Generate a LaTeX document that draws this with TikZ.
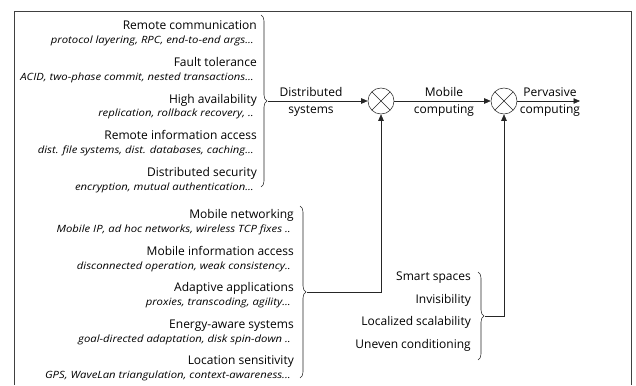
\documentclass[tikz,border=0pt]{standalone}
\usepackage{fontspec}
\setmainfont{Open Sans}
\newfontfamily\subfont[FakeStretch=1.13]{Open Sans}
\usetikzlibrary{decorations.pathreplacing,arrows.meta}
\begin{document}
\begin{tikzpicture}[x=1pt,y=-1pt,
 lbl/.style={anchor=base east, inner sep=0pt, font=\fontsize{12}{14}\selectfont},
 sub/.style={anchor=base east, inner sep=0pt, font=\subfont\itshape\fontsize{10}{12}\selectfont},
 flow/.style={anchor=base, inner sep=0pt, font=\fontsize{12}{14}\selectfont},
 bracestyle/.style={decorate, decoration={brace, amplitude=6pt}, line width=0.55pt, black!85},
 conn/.style={line width=0.55pt, black!85, -{Triangle[length=6.5pt,width=5.5pt]}},
 mult/.style={circle, draw=black!85, line width=0.55pt, minimum size=26pt, inner sep=0pt,
   path picture={\draw[line width=0.55pt, black!85] (path picture bounding box.north west)--(path picture bounding box.south east)
     (path picture bounding box.north east)--(path picture bounding box.south west);}}
]
\useasboundingbox (0,0) rectangle (636,385);
\draw[line width=0.8pt, black!75] (14,385) -- (14,11) -- (631,11) -- (631,385);

% top group
\node[lbl] (rc) at (257,30) {Remote communication};
\node[sub] (rcs) at (254,44) {protocol layering, RPC, end-to-end args...};
\node[lbl] (ft) at (257,66.5) {Fault tolerance};
\node[sub] (fts) at (254,80.5) {ACID, two-phase commit, nested transactions...};
\node[lbl] (ha) at (257,103) {High availability};
\node[sub] (has) at (254,117) {replication, rollback recovery, ..};
\node[lbl] (ria) at (257,139.5) {Remote information access};
\node[sub] (rias) at (254,153.5) {dist. file systems, dist. databases, caching...};
\node[lbl] (ds) at (257,176) {Distributed security};
\node[sub] (dss) at (254,190) {encryption, mutual authentication...};

% bottom group
\node[lbl] (mn) at (294,218.5) {Mobile networking};
\node[sub] (mns) at (291,232.5) {Mobile IP, ad hoc networks, wireless TCP fixes ..};
\node[lbl] (mia) at (294,255) {Mobile information access};
\node[sub] (mias) at (291,269) {disconnected operation, weak consistency..};
\node[lbl] (aa) at (294,291.5) {Adaptive applications};
\node[sub] (aas) at (291,305.5) {proxies, transcoding, agility...};
\node[lbl] (eas) at (294,328) {Energy-aware systems};
\node[sub] (eass) at (291,342) {goal-directed adaptation, disk spin-down ..};
\node[lbl] (ls) at (294,364.5) {Location sensitivity};
\node[sub] (lss) at (291,378.5) {GPS, WaveLan triangulation, context-awareness...};

% smart group
\node[lbl] (ss) at (471,280.5) {Smart spaces};
\node[lbl] (inv) at (471,303) {Invisibility};
\node[lbl] (lsc) at (471,325.5) {Localized scalability};
\node[lbl] (uc) at (471,348) {Uneven conditioning};

% braces
\draw[bracestyle] (261,15) -- (261,187);
\draw[bracestyle] (300,206) -- (300,378);
\draw[bracestyle] (478,272) -- (478,360);
\coordinate (t1) at (268,101);
\coordinate (t2) at (307,292);
\coordinate (t3) at (485,316);

% multipliers
\node[mult] (c1) at (381,101) {};
\node[mult] (c2) at (504,101) {};
\coordinate (out) at (580,101);

% flow labels
\node[flow] (l1a) at (311,96.5) {Distributed};
\node[flow] (l1b) at (311,113.5) {systems};
\node[flow] (l2a) at (444,96.5) {Mobile};
\node[flow] (l2b) at (444,113.5) {computing};
\node[flow] (l3a) at (550,96.5) {Pervasive};
\node[flow] (l3b) at (550,113.5) {computing};

% connectors
\draw[conn] (t1) -- (c1);
\draw[conn] (c1) -- (c2);
\draw[conn] (c2) -- (out);
\draw[conn] (t2) -| (c1.south);
\draw[conn] (t3) -| (c2.south);
\end{tikzpicture}
\end{document}
